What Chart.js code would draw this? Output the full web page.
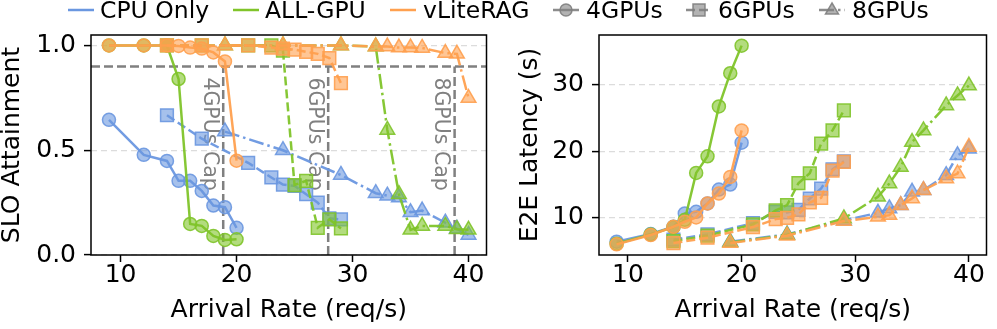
<!doctype html>
<html>
<head>
  <meta charset="utf-8">
  <title>SLO Attainment and E2E Latency</title>
  <style>
    body { margin: 0; background: #fff; }
    #wrap { position: relative; width: 997px; height: 329px; overflow: hidden; font-family: "DejaVu Sans", sans-serif; }
    .box { position: absolute; top: 0; height: 329px; }
    .leg { position: absolute; top: -2px; font-size: 23.5px; line-height: 24px; white-space: nowrap; color: #000; }
    .hdl { position: absolute; top: 0; }
  </style>
</head>
<body>
  <div id="wrap">
    <div class="box" style="left:0;width:497px"><canvas id="slo"></canvas></div>
    <div class="box" style="left:497px;width:500px"><canvas id="lat"></canvas></div>

    <svg class="hdl" style="left:67px" width="28" height="20"><line x1="1" y1="10" x2="27" y2="10" stroke="#6a97e0" stroke-width="2.5"/></svg>
    <span class="leg" style="left:100px">CPU Only</span>
    <svg class="hdl" style="left:232px" width="28" height="20"><line x1="1" y1="10" x2="27" y2="10" stroke="#80c42a" stroke-width="2.5"/></svg>
    <span class="leg" style="left:265px">ALL-GPU</span>
    <svg class="hdl" style="left:389px" width="28" height="20"><line x1="1" y1="10" x2="27" y2="10" stroke="#ffa04f" stroke-width="2.5"/></svg>
    <span class="leg" style="left:423px">vLiteRAG</span>

    <svg class="hdl" style="left:552px" width="28" height="20"><line x1="1" y1="10" x2="27" y2="10" stroke="rgba(128,128,128,0.9)" stroke-width="2.5"/><circle cx="14" cy="10" r="6" fill="rgba(128,128,128,0.6)" stroke="rgba(128,128,128,0.9)" stroke-width="1.5"/></svg>
    <span class="leg" style="left:586px">4GPUs</span>
    <svg class="hdl" style="left:685px" width="28" height="20"><line x1="1" y1="10" x2="27" y2="10" stroke="rgba(128,128,128,0.9)" stroke-width="2.5" stroke-dasharray="9 4"/><rect x="8" y="4" width="12" height="12" fill="rgba(128,128,128,0.6)" stroke="rgba(128,128,128,0.9)" stroke-width="1.5"/></svg>
    <span class="leg" style="left:718px">6GPUs</span>
    <svg class="hdl" style="left:818px" width="28" height="20"><line x1="1" y1="10" x2="27" y2="10" stroke="rgba(128,128,128,0.9)" stroke-width="2.5" stroke-dasharray="15 4 2.5 4"/><polygon points="14,3 20.5,14 7.5,14" fill="rgba(128,128,128,0.6)" stroke="rgba(128,128,128,0.9)" stroke-width="1.5"/></svg>
    <span class="leg" style="left:852px">8GPUs</span>
  </div>

  <script src="https://cdn.jsdelivr.net/npm/chart.js"></script>
  <script>
    // arrival rates (req/s) per GPU setup
    const rate4 = [9, 12, 14, 15, 16, 17, 18, 19, 20];
    const rate6 = [14, 17, 21, 23, 24, 25, 26, 27, 28, 29];
    const rate8 = [19, 24, 29, 32, 33, 34, 35, 36, 38, 39, 40];

    // SLO attainment
    const sloCpu4 = [0.645, 0.478, 0.449, 0.354, 0.354, 0.306, 0.236, 0.228, 0.13];
    const sloGpu4 = [1.0, 1.0, 1.0, 0.84, 0.148, 0.139, 0.091, 0.072, 0.075];
    const sloLite4 = [1.0, 1.0, 1.0, 0.998, 0.99, 0.985, 0.967, 0.924, 0.45];
    const sloCpu6 = [0.667, 0.555, 0.44, 0.37, 0.336, 0.33, 0.29, 0.25, 0.175, 0.17];
    const sloGpu6 = [1.0, 1.0, 1.0, 1.0, 0.975, 0.334, 0.354, 0.13, 0.17, 0.127];
    const sloLite6 = [1.0, 1.0, 1.0, 0.99, 0.985, 0.98, 0.97, 0.96, 0.94, 0.82];
    const sloCpu8 = [0.589, 0.50, 0.382, 0.295, 0.283, 0.275, 0.204, 0.212, 0.154, 0.125, 0.096];
    const sloGpu8 = [1.0, 1.0, 1.0, 0.995, 0.597, 0.29, 0.12, 0.139, 0.139, 0.123, 0.12];
    const sloLite8 = [1.0, 1.0, 1.0, 0.995, 0.995, 0.99, 0.99, 0.988, 0.964, 0.96, 0.749];

    // E2E latency (s)
    const latCpu4 = [6.4, 7.55, 8.65, 10.65, 10.9, 12.15, 14.25, 15.0, 21.3];
    const latGpu4 = [6.1, 7.5, 8.6, 9.7, 16.75, 19.25, 26.75, 31.75, 35.9];
    const latLite4 = [6.0, 7.4, 8.65, 9.4, 10.05, 12.15, 13.65, 16.15, 23.15];
    const latCpu6 = [6.7, 7.5, 9.2, 10.9, 10.8, 11.2, 12.9, 14.4, 17.3, 18.5];
    const latGpu6 = [6.5, 7.3, 9.0, 11.1, 11.9, 15.2, 16.7, 21.15, 23.15, 26.15];
    const latLite6 = [6.2, 7.0, 8.6, 9.8, 10.0, 10.5, 12.3, 13.0, 17.1, 18.4];
    const latCpu8 = [6.4, 7.5, 9.6, 10.75, 11.4, 11.9, 13.9, 14.15, 16.4, 19.4, 20.4];
    const latGpu8 = [6.3, 7.4, 9.9, 13.15, 15.15, 17.65, 21.4, 23.15, 26.9, 28.4, 29.9];
    const latLite8 = [6.2, 7.3, 9.5, 10.15, 10.4, 11.9, 12.9, 14.15, 15.9, 16.65, 20.65];

    const xTicks = [10, 20, 30, 40];
    const sloTicks = [0, 0.5, 1.0];
    const latTicks = [10, 20, 30];
    const sloTarget = 0.9;
    const capRates = [18.85, 27.9, 38.8];
    const capLabels = ['4GPUs Cap', '6GPUs Cap', '8GPUs Cap'];

    const blue = [106, 151, 224], green = [128, 196, 42], orange = [255, 160, 79];
    const rgba = (c, a) => `rgba(${c[0]},${c[1]},${c[2]},${a})`;

    const styles = {
      4: { point: 'circle', r: 6.5, dash: [] },
      6: { point: 'rect', r: 9, dash: [9, 4] },
      8: { point: 'triangle', r: 8.5, dash: [15, 4, 2.5, 4] }
    };

    function series(xs, ys, color, gpus, order) {
      const s = styles[gpus];
      return {
        data: xs.map((x, i) => ({ x: x, y: ys[i] })),
        borderColor: rgba(color, 0.95),
        backgroundColor: rgba(color, 0.6),
        pointBackgroundColor: rgba(color, 0.6),
        pointBorderColor: rgba(color, 0.9),
        pointBorderWidth: 1.5,
        pointStyle: s.point,
        pointRadius: s.r,
        borderWidth: 2.5,
        borderDash: s.dash,
        tension: 0,
        clip: false,
        order: order
      };
    }

    const font = { family: '"DejaVu Sans", sans-serif', size: 25 };

    const framePlugin = {
      id: 'frame',
      afterDraw(chart) {
        const { ctx, chartArea: a } = chart;
        ctx.save();
        ctx.strokeStyle = '#000';
        ctx.lineWidth = 1.5;
        ctx.strokeRect(a.left, a.top, a.right - a.left, a.bottom - a.top);
        ctx.restore();
      }
    };

    const capPlugin = {
      id: 'caps',
      beforeDatasetsDraw(chart) {
        const { ctx, scales: { x, y }, chartArea: a } = chart;
        const yT = y.getPixelForValue(sloTarget);
        ctx.save();
        ctx.strokeStyle = '#808080';
        ctx.lineWidth = 2.5;
        ctx.setLineDash([9, 4]);
        ctx.beginPath(); ctx.moveTo(a.left, yT); ctx.lineTo(a.right, yT); ctx.stroke();
        capRates.forEach((c, i) => {
          const px = x.getPixelForValue(c);
          ctx.beginPath(); ctx.moveTo(px, y.getPixelForValue(0)); ctx.lineTo(px, yT); ctx.stroke();
          ctx.save();
          ctx.translate(px - 14, yT + 11);
          ctx.rotate(Math.PI / 2);
          ctx.fillStyle = '#808080';
          ctx.font = '20.5px "DejaVu Sans"';
          ctx.textAlign = 'left';
          ctx.textBaseline = 'middle';
          ctx.fillText(capLabels[i], 0, 0);
          ctx.restore();
        });
        ctx.restore();
      }
    };

    function axes(yMin, yMax, yTicks, yFmt, yTitle, yWidth, yTitlePad) {
      return {
        x: {
          type: 'linear', min: 7.45, max: 41.55,
          afterBuildTicks: (s) => { s.ticks = xTicks.map(v => ({ value: v })); },
          afterFit: (s) => { s.height = 74; },
          ticks: { font: font, color: '#000', padding: -2, maxRotation: 0, callback: (v) => String(v) },
          grid: { drawOnChartArea: false, tickLength: 7, tickWidth: 1.5, tickColor: '#000' },
          border: { display: false },
          title: { display: true, text: 'Arrival Rate (req/s)', color: '#000', font: Object.assign({ lineHeight: 1 }, font), padding: { top: 0, bottom: 6 } }
        },
        y: {
          type: 'linear', min: yMin, max: yMax,
          afterBuildTicks: (s) => { s.ticks = yTicks.map(v => ({ value: v })); },
          afterFit: (s) => { s.width = yWidth; },
          ticks: { font: font, color: '#000', padding: 8, callback: yFmt },
          grid: { color: '#dcdcdc', lineWidth: 1.2, borderDash: [6, 4], tickLength: 7, tickWidth: 1.5, tickColor: '#000', tickBorderDash: [] },
          border: { display: false, dash: [6, 4] },
          title: { display: true, text: yTitle, color: '#000', font: Object.assign({ lineHeight: 1 }, font), padding: { top: yTitlePad, bottom: 0 } }
        }
      };
    }

    const common = {
      responsive: true,
      maintainAspectRatio: false,
      animation: false,
      plugins: { legend: { display: false }, tooltip: { enabled: false } }
    };

    new Chart(document.getElementById('slo'), {
      type: 'line',
      data: {
        datasets: [
          series(rate4, sloCpu4, blue, 4, 2), series(rate6, sloCpu6, blue, 6, 2), series(rate8, sloCpu8, blue, 8, 2),
          series(rate4, sloGpu4, green, 4, 1), series(rate6, sloGpu6, green, 6, 1), series(rate8, sloGpu8, green, 8, 1),
          series(rate4, sloLite4, orange, 4, 0), series(rate6, sloLite6, orange, 6, 0), series(rate8, sloLite8, orange, 8, 0)
        ]
      },
      options: Object.assign({}, common, {
        layout: { padding: { top: 35, right: 9, left: 0, bottom: 0 } },
        scales: axes(0, 1.05, sloTicks, (v) => v.toFixed(1), 'SLO Attainment', 91, 0)
      }),
      plugins: [capPlugin, framePlugin]
    });

    new Chart(document.getElementById('lat'), {
      type: 'line',
      data: {
        datasets: [
          series(rate4, latCpu4, blue, 4, 2), series(rate6, latCpu6, blue, 6, 2), series(rate8, latCpu8, blue, 8, 2),
          series(rate4, latGpu4, green, 4, 1), series(rate6, latGpu6, green, 6, 1), series(rate8, latGpu8, green, 8, 1),
          series(rate4, latLite4, orange, 4, 0), series(rate6, latLite6, orange, 6, 0), series(rate8, latLite8, orange, 8, 0)
        ]
      },
      options: Object.assign({}, common, {
        layout: { padding: { top: 35, right: 0.5, left: 0, bottom: 0 } },
        scales: axes(4.4, 37.5, latTicks, (v) => String(v), 'E2E Latency (s)', 102, 20.5)
      }),
      plugins: [framePlugin]
    });
  </script>
</body>
</html>
